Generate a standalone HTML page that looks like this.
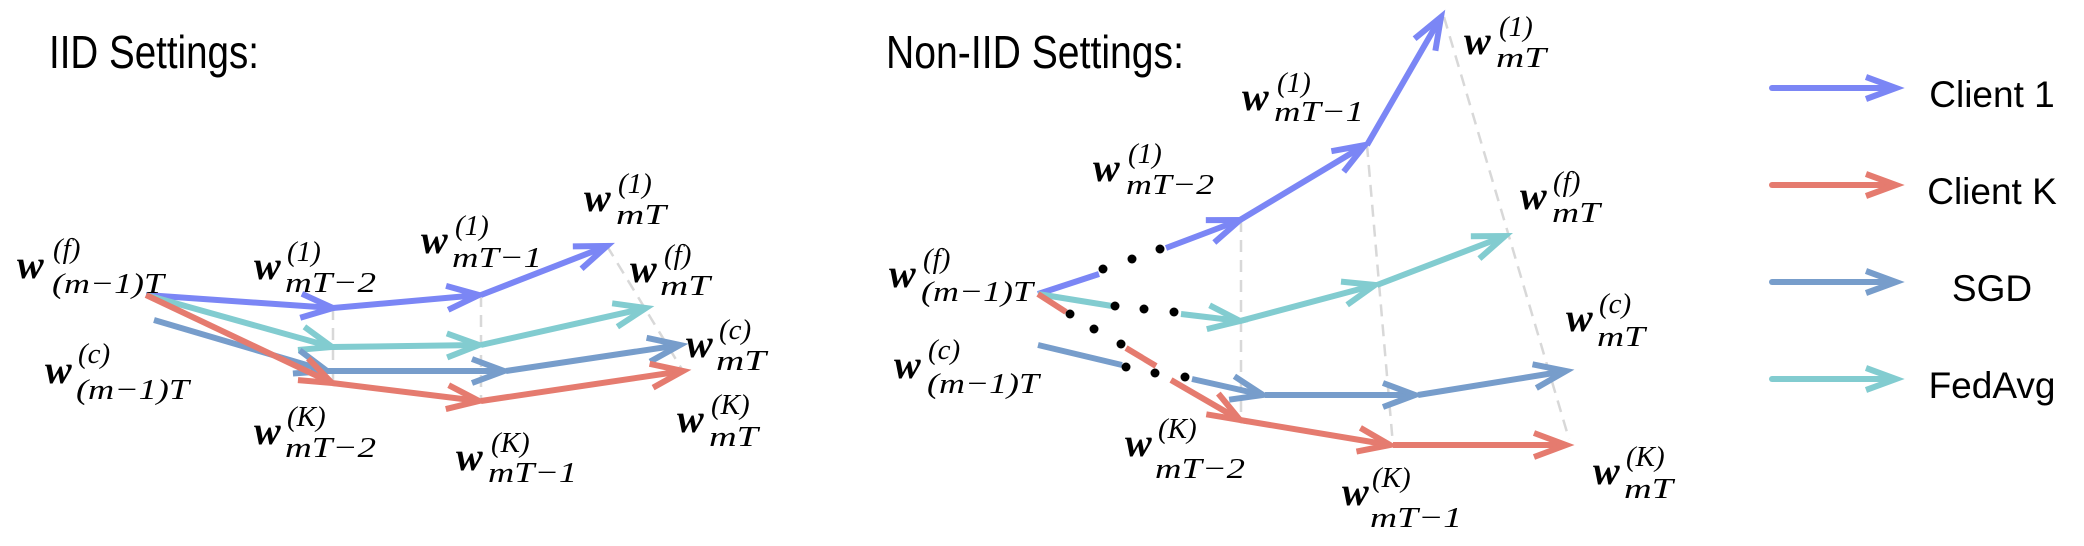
<!DOCTYPE html>
<html><head><meta charset="utf-8"><style>
html,body{margin:0;padding:0;background:#fff;}
svg{display:block;}
.ttl{font-family:"Liberation Sans",sans-serif;font-size:46px;fill:#000;}
.leg{font-family:"Liberation Sans",sans-serif;font-size:37px;fill:#000;}
.w{font-family:"Liberation Serif",serif;font-style:italic;font-weight:bold;font-size:40px;}
.s{font-family:"Liberation Serif",serif;font-style:italic;font-size:29px;}
</style></head><body>
<svg id="fig" width="2084" height="546" viewBox="0 0 2084 546" xmlns="http://www.w3.org/2000/svg">
<text class="ttl" x="49" y="68" textLength="210" lengthAdjust="spacingAndGlyphs">IID Settings:</text>
<text class="ttl" x="886" y="68" textLength="298" lengthAdjust="spacingAndGlyphs">Non-IID Settings:</text>
<g id="guides"></g><g id="arrows"></g><g id="dots"></g><g id="labels"></g><g id="legend"></g>
</svg>
<script>
const NS='http://www.w3.org/2000/svg';
const colors={c1:'#7b86f5',ck:'#e57b6f',sgd:'#779dcb',fed:'#82ccd0'};
// segments: [x1,y1,x2,y2,hasArrow]
const iidClient1=[[146,295,333,308,1],[333,308,479,295,1],[481,295,607,246,1]];
const iidFedAvg=[[146,295,332,347,1],[332,347,479,345,1],[481,345,646,308,1]];
const iidSGD=[[154,320,327,371,1],[327,371,504,371,1],[506,371,680,345,1]];
const iidClientK=[[146,295,332,383,1],[332,383,479,401,1],[481,401,683,371,1]];
const nonClient1=[[1038,294,1099,274,0],[1166,248,1240,220,1],[1240,220,1365,145,1],[1367,145,1441,17,1]];
const nonFedAvg=[[1038,294,1112,306,0],[1181,314,1240,321,1],[1240,321,1375,285,1],[1377,285,1505,236,1]];
const nonSGD=[[1038,345,1122,365,0],[1192,379,1263,395,1],[1265,395,1415,395,1],[1418,395,1566,371,1]];
const nonClientK=[[1038,294,1066,312,0],[1126,348,1156,366,0],[1171,380,1240,420,1],[1240,420,1390,445,1],[1393,445,1566,445,1]];
const guideLines=[[333,308,333,383],[481,295,481,401],[607,246,683,371],[1241,220,1241,420],[1367,145,1393,445],[1444,17,1569,439]];
const dotPts=[[1103,269],[1132,259],[1160,249],[1115,306],[1144,309],[1174,312],[1070,314],[1094,329],[1121,344],[1126,367],[1155,373],[1185,377]];
// labels: [sup, supX, supBase, sub, subX, subEnd, subBase, wx, wBaseline]
const labelData=[
['(f)',53,258,'(m−1)T',52,164,293,17,278],
['(c)',78,363,'(m−1)T',76,189,399,45,383],
['(1)',287,261,'mT−2',285,376,292,254,279],
['(1)',455,235,'mT−1',452,542,267,421,253],
['(1)',618,193,'mT',616,666,224,584,211],
['(f)',664,264,'mT',660,710,295,630,282],
['(c)',719,339,'mT',716,766,370,686,357],
['(K)',711,414,'mT',709,758,446,677,432],
['(K)',287,426,'mT−2',285,376,457,254,444],
['(K)',491,452,'mT−1',488,577,482,456,470],
['(f)',923,268,'(m−1)T',921,1033,301,889,287],
['(c)',928,359,'(m−1)T',927,1039,393,894,378],
['(1)',1128,163,'mT−2',1126,1214,194,1093,181],
['(1)',1277,92,'mT−1',1274,1364,121,1242,110],
['(1)',1499,36,'mT',1496,1546,67,1464,54],
['(f)',1553,191,'mT',1552,1600,222,1520,209],
['(c)',1599,313,'mT',1597,1645,346,1566,331],
['(K)',1626,466,'mT',1624,1673,498,1593,484],
['(K)',1158,438,'mT−2',1155,1245,478,1125,456],
['(K)',1372,487,'mT−1',1370,1462,527,1342,505]
];
const legendNames=['Client 1','Client K','SGD','FedAvg'];
const legendKeys=['c1','ck','sgd','fed'];
const legendY=[88,185,282,379];

function mk(tag,attrs,parent){const e=document.createElementNS(NS,tag);for(const k in attrs)e.setAttribute(k,attrs[k]);parent.appendChild(e);return e;}
function arrow(parent,s,col,name){
  const g=mk('g',{},parent);
  
  
  const [x1,y1,x2,y2,h]=s;
  mk('line',{x1,y1,x2,y2,stroke:col,'stroke-width':6,'stroke-linecap':'butt'},g);
  if(h){
    const a=Math.atan2(y2-y1,x2-x1),L=32,W=12;
    const bx=x2-L*Math.cos(a),by=y2-L*Math.sin(a);
    const px=-Math.sin(a)*W,py=Math.cos(a)*W;
    mk('polyline',{points:`${bx+px},${by+py} ${x2},${y2} ${bx-px},${by-py}`,fill:'none',stroke:col,'stroke-width':6,'stroke-linejoin':'miter'},g);
  }
}
const G=document.getElementById('guides');
guideLines.forEach(l=>{
  const e=mk('line',{x1:l[0],y1:l[1],x2:l[2],y2:l[3],stroke:'#d8d8d8','stroke-width':2.5,'stroke-dasharray':'12 8'},G);
  
  
});
const A=document.getElementById('arrows');
[[iidClient1,'c1','iid-client1'],[iidFedAvg,'fed','iid-fedavg'],[iidSGD,'sgd','iid-sgd'],[iidClientK,'ck','iid-clientk'],
 [nonClient1,'c1','noniid-client1'],[nonFedAvg,'fed','noniid-fedavg'],[nonSGD,'sgd','noniid-sgd'],[nonClientK,'ck','noniid-clientk']]
.forEach(([segs,k,n])=>segs.forEach((s,i)=>arrow(A,s,colors[k],n+'-step-'+(i+1))));
const D=document.getElementById('dots');
dotPts.forEach(p=>{
  const e=mk('circle',{cx:p[0],cy:p[1],r:4.5,fill:'#000'},D);
  
  
});
const Lb=document.getElementById('labels');
labelData.forEach(d=>{
  const [sup,sx,sy,sub,bx,be,by,wx,wy]=d;
  const g=mk('g',{},Lb);
  
  
  const w=mk('text',{x:wx,y:wy,class:'w'},g);w.textContent='w';
  const t1=mk('text',{x:sx,y:sy,class:'s'},g);t1.textContent=sup;
  const t2=mk('text',{x:bx,y:by,class:'s',textLength:be-bx,lengthAdjust:'spacingAndGlyphs'},g);t2.textContent=sub;
});
const LG=document.getElementById('legend');
legendNames.forEach((n,i)=>{
  const g=mk('g',{},LG);
  
  
  const y=legendY[i];
  mk('line',{x1:1772,y1:y,x2:1892,y2:y,stroke:colors[legendKeys[i]],'stroke-width':6,'stroke-linecap':'round'},g);
  mk('polyline',{points:`${1866},${y-11} 1896,${y} ${1866},${y+11}`,fill:'none',stroke:colors[legendKeys[i]],'stroke-width':6},g);
  const t=mk('text',{x:1992,y:y+19,class:'leg','text-anchor':'middle'},g);t.textContent=n;
});
</script>
</body></html>
